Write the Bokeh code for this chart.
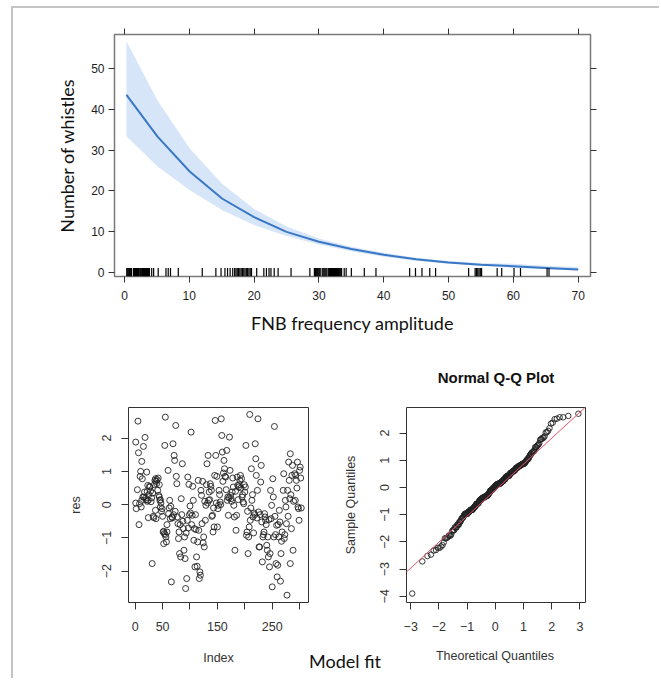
from statistics import NormalDist
from bokeh.plotting import figure
from bokeh.models import (Range1d, LinearAxis, FixedTicker, Slope, Div, Spacer)
from bokeh.layouts import column, row
from bokeh.embed import file_html
from bokeh.resources import INLINE

# ---------------- data ----------------
# effect plot: FNB frequency amplitude vs fitted number of whistles
fnb_x = [0.3, 5.1, 10.1, 15.1, 20, 25, 30, 35, 40, 45, 50, 55, 60, 65, 70]
fit = [43.5, 33.3, 24.7, 18.1, 13.6, 10.0, 7.6, 5.8, 4.4, 3.3, 2.5, 2.0, 1.6, 1.2, 0.8]
upper = [56.6, 42.1, 30.3, 21.7, 15.6, 11.3, 8.4, 6.4, 4.9, 3.7, 2.9, 2.4, 2.2, 1.7, 1.4]
lower = [33.4, 26.0, 20.2, 15.3, 11.7, 9.0, 6.9, 5.3, 3.9, 2.9, 2.2, 1.7, 1.2, 0.9, 0.55]
rug_x = [0.35, 0.5, 0.65, 0.8, 0.95, 1.1, 1.4, 1.55, 1.7, 1.85, 2.0, 2.15, 2.35, 2.5, 2.65,
         2.8, 2.95, 3.1, 3.25, 3.4, 3.55, 3.7, 3.85, 4.2, 4.5, 5.2, 6.4, 6.75, 7.1, 8.3,
         12.0, 14.1, 14.9, 15.5, 15.9, 16.3, 16.7, 17.0, 17.2, 17.4, 17.6, 17.8, 18.0, 18.2,
         18.4, 18.6, 18.8, 19.0, 19.2, 19.4, 19.6, 20.4, 21.5, 21.9, 22.3, 22.6, 23.1, 23.7,
         25.7, 28.6, 29.3, 29.45, 29.6, 29.75, 29.9, 30.05, 30.2, 30.5, 30.65, 30.8, 30.95,
         31.1, 31.25, 31.5, 31.65, 31.8, 31.95, 32.1, 32.25, 32.4, 32.55, 32.7, 32.85, 33.0,
         33.15, 33.3, 33.5, 33.9, 34.2, 35.0, 37.0, 38.8, 44.0, 44.9, 45.9, 47.1, 48.0, 53.1,
         54.1, 54.3, 54.5, 54.7, 54.9, 55.1, 57.5, 58.2, 60.1, 61.1, 65.2, 65.5]
top_xticks = [0, 10, 20, 30, 40, 50, 60, 70]
top_yticks = [0, 10, 20, 30, 40, 50]

# residuals vs index
res_idx = [5, 1, 6, 15, 18, 12, 10, 9, 13, 4, 1, 2, 7, 11, 16, 12, 17, 21, 23, 22, 24, 24, 8, 14,
           27, 28, 29, 31, 33, 34, 36, 37, 39, 40, 41, 43, 38, 37, 44, 45, 46,
           49, 51, 54, 55, 53, 56, 57, 58, 52, 60, 61, 63, 64, 67, 66, 69, 71, 72, 74, 75, 76,
           77, 78, 79, 80, 81, 83, 84, 85,
           86, 88, 89, 90, 91, 92, 94, 95, 96, 98, 100, 102, 104, 106, 107, 108, 109, 112, 113,
           114, 115, 116, 117, 118, 119, 120,
           121, 122, 124, 125, 126, 128, 129, 131, 133, 134, 135, 137, 139, 140, 141, 142, 144,
           145, 146, 147, 150, 151, 152, 153, 155,
           157, 158, 159, 162, 163, 164, 165, 167, 168, 169, 170, 172, 173, 174, 175, 177, 179,
           180, 181, 182, 184, 185, 186, 187, 189, 191, 192,
           194, 195, 197, 198, 200, 201, 202, 203, 204, 206, 207, 208, 209, 210, 212, 213, 215,
           217, 219, 220, 221, 223, 224, 225, 226, 227,
           229, 230, 231, 232, 233, 235, 236, 237, 238, 240, 241, 242, 243, 245, 246, 247, 248,
           249, 251, 252, 253, 250, 254, 257, 258, 259, 260, 262, 263, 264,
           265, 266, 268, 270, 271, 272, 274, 275, 276, 277, 278, 280, 281, 282, 283, 285, 286,
           287, 288, 283, 291, 292, 293, 294, 296, 297, 298, 299, 300, 301,
           19, 20, 22, 25, 26, 30, 32, 35, 38, 42, 44, 46,
           47, 48, 50, 52, 55, 58,
           62, 65, 68, 70, 73, 82, 87, 93, 97, 99,
           101, 103, 105, 110, 111, 123, 127, 130, 132, 136, 138, 143, 148, 149, 154, 156,
           160, 161, 166, 171, 176, 178, 183, 188, 190, 193, 196, 199,
           205, 211, 214, 216, 218, 222, 228, 234, 239, 244, 255, 256, 261, 267, 273, 279, 284,
           289, 295, 302, 303]
res = [2.51, 1.88, 1.56, 1.75, 2.02, 1.30, 1.00, 0.85, 0.78, 0.45, 0.05, -0.12, -0.60, -0.07,
       0.23, 0.13, 0.38, 0.98, 0.58, 0.10, 0.13, -0.39, 0.03, 0.23,
       0.53, 0.41, 0.09, -1.77, -0.35, -0.39, 0.73, 0.78, 0.63, 0.75, 0.43, 0.28, -0.42, -0.17,
       0.23, 0.13, -0.07,
       -0.12, -0.82, 1.78, 2.63, -0.87, -0.97, -1.12, -0.82, -1.17, 1.03, -0.27, 0.13, -0.42,
       -0.37, -2.32, 1.83, 1.48, 1.33, 2.38, 0.85, 0.63,
       -0.37, -0.57, -1.02, -0.82, -1.47, -1.57, 0.18, -0.30,
       1.23, -0.72, -1.37, -0.97, -1.62, -2.52, -2.22, -0.47, 0.83, 0.61, -0.04, 2.18, -0.32,
       0.13, -1.07, -0.72, -1.87, -1.57, -1.85, -1.12, 0.73, -0.77, -2.22, -2.02, -2.12, 0.43,
       0.28, -0.57, -1.15, -0.97, -1.27, -0.47, -0.02, 1.23, 1.48, 0.13, 0.38, 0.63, 0.43,
       -0.35, -0.32, -0.82, -0.67, 0.88, 2.53, 1.48, -0.67, -0.12, -0.02, 0.43, 0.08,
       2.58, 2.08, 1.58, 1.33, 1.08, 0.85, 0.83, 1.63, 0.13, 0.23, -0.32, 2.03, 1.03, 0.28,
       0.18, 0.38, 0.53, -0.02, -0.37, -1.37, -0.77, -0.32, 0.83, 0.58, 0.53, 0.73, 0.88,
       0.78, 0.23, 0.08, 0.03, 0.38, 0.53, 1.78, -0.92, -0.82, -1.47, -0.97, -0.67, 2.71,
       -0.47, 1.08, 0.13, -0.37, -0.25, 1.83, 1.38, 0.88, 0.43, 2.58, -0.22, -1.27, -1.27,
       0.68, 1.18, -0.52, -1.72, -0.97, -0.82, -0.27, -0.37, -0.47, -1.22, -1.37, -0.97,
       -1.57, -1.87, -1.47, 0.43, -0.42, -0.02, 0.78, 0.23, -0.97, -2.47, 2.35, -1.77, -0.62,
       -2.17, -1.82, -0.97, -0.17, -0.52,
       -2.30, -1.47, -0.82, 0.43, 0.93, -1.02, 0.13, -0.07, -0.57, -2.72, 0.43, 1.28, 0.73,
       0.18, 1.53, -0.72, 0.88, 1.18, -1.37, -1.77, 0.93, 0.13, 0.88, 0.73, 1.28, -0.07,
       -0.12, -0.47, 1.03, 1.13,
       0.2, 0.15, 0.4, 0.3, 0.55, 0.2, 0.35, 0.6, 0.7, 0.8, 0.6, 0.15,
       0.05, -0.2, -0.35, -0.8, -0.9, -0.6,
       -0.1, -0.05, -0.4, -0.3, -0.2, -0.6, -0.5, -0.85, -0.7, -0.3,
       -0.25, -0.6, 0.55, -0.3, -0.75, 0.7, 0.1, 0.6, 0.05, 0.15, 0.55, -0.1, 0.05, 0.85, 0.3,
       0.0,
       0.7, 0.95, 0.45, 0.2, 0.1, 0.8, 0.4, 0.15, 0.6, 0.5, 0.3, 0.6,
       -0.2, -0.1, 0.3, -0.85, -0.3, -0.4, -0.3, -0.9, -0.6, -0.45, -0.35, -0.9, -0.6, -1.1,
       -0.9, -0.35, 0.3, 0.1, 0.5, 0.8, -0.1]
idx_ticks = [0, 50, 100, 150, 200, 250, 300]
idx_hidden = {100: "", 200: "", 300: ""}
res_ticks = [-2, -1, 0, 1, 2]

# normal Q-Q: sample quantiles are the sorted residuals plus the one low outlier
qq_low_outlier = [-3.9]
qq_sample = sorted(res + qq_low_outlier)
n_qq = len(qq_sample)
qq_theor = [NormalDist().inv_cdf((i + 0.5) / n_qq) for i in range(n_qq)]
qq_line_intercept = -0.1
qq_line_slope = 0.955
qq_xticks = [-3, -2, -1, 0, 1, 2, 3]
qq_yticks = [-4, -3, -2, -1, 0, 1, 2]

# ---------------- styling helpers ----------------
FRAME_GREY = "#c4c4c4"
LAT = "Lato"
ARIAL = "Liberation Sans"


def style_axis(ax, ticks, font_size, color, tick_len, standoff, label_standoff,
               label_font, label_size):
    ax.ticker = FixedTicker(ticks=ticks)
    ax.axis_line_color = None
    ax.major_tick_in = 0
    ax.major_tick_out = tick_len
    ax.minor_tick_line_color = None
    ax.major_tick_line_color = "#333333"
    ax.major_label_text_font = ARIAL
    ax.major_label_text_font_size = font_size
    ax.major_label_text_color = color
    ax.major_label_standoff = standoff
    ax.axis_label_text_font = label_font
    ax.axis_label_text_font_size = label_size
    ax.axis_label_text_font_style = "normal"
    ax.axis_label_standoff = label_standoff


# ---------------- top: effect plot ----------------
p = figure(width=646, height=335, output_backend="svg", toolbar_location=None,
           x_range=Range1d(-1.54, 71.9), y_range=Range1d(-0.9, 58.24),
           min_border_left=101, min_border_right=69, min_border_top=26, min_border_bottom=67,
           x_axis_label="FNB frequency amplitude", y_axis_label="Number of whistles")
p.grid.visible = False
p.outline_line_color = "#7a7a7a"
p.outline_line_width = 1.5
style_axis(p.xaxis[0], top_xticks, "12px", "#1e1e1e", 6, 8, 9, LAT, "18px")
style_axis(p.yaxis[0], top_yticks, "12px", "#1e1e1e", 6, 4, 10, LAT, "18px")
p.xaxis[0].axis_label_text_color = "#111111"
p.yaxis[0].axis_label_text_color = "#111111"
for side in ("above", "right"):
    ax = LinearAxis()
    style_axis(ax, top_xticks if side == "above" else top_yticks, "11px", None,
               6, 0, 0, ARIAL, "11px")
    p.add_layout(ax, side)

p.varea(x=fnb_x, y1=lower, y2=upper, fill_color="#d6e6f8")
p.line(x=fnb_x, y=fit, line_color="#3a77c5", line_width=2)
rug_top = 1.2
p.segment(x0=rug_x, y0=[p.y_range.start] * len(rug_x), x1=rug_x, y1=[rug_top] * len(rug_x),
          line_color="black", line_width=1.2)

# ---------------- bottom left: residuals vs index ----------------
q = figure(width=296, height=335, output_backend="svg", toolbar_location=None,
           x_range=Range1d(-12.2, 316.2), y_range=Range1d(-2.94, 2.92),
           min_border_left=115, min_border_right=1, min_border_top=64, min_border_bottom=76,
           x_axis_label="Index", y_axis_label="res")
q.grid.visible = False
q.outline_line_color = "#333333"
q.outline_line_width = 1
style_axis(q.xaxis[0], idx_ticks, "12.5px", "#333333", 7, 12, 17, ARIAL, "12.5px")
q.xaxis[0].major_label_overrides = idx_hidden
style_axis(q.yaxis[0], res_ticks, "12.5px", "#333333", 7, 10, 17, ARIAL, "12.5px")
q.yaxis[0].major_label_orientation = "vertical"
q.xaxis[0].axis_label_text_color = "#333333"
q.yaxis[0].axis_label_text_color = "#333333"
q.scatter(x=res_idx, y=res, marker="circle", size=6, fill_color=None,
          line_color="#222222", line_width=0.9)

# ---------------- bottom right: normal Q-Q plot ----------------
r = figure(width=350, height=305, output_backend="svg", toolbar_location=None,
           x_range=Range1d(-3.15, 3.20), y_range=Range1d(-4.23, 2.94),
           min_border_left=97, min_border_right=74, min_border_top=64, min_border_bottom=46,
           y_axis_label="Sample Quantiles", title="Normal Q-Q Plot")
r.grid.visible = False
r.outline_line_color = "#333333"
r.outline_line_width = 1
r.title.align = "center"
r.title.vertical_align = "middle"
r.title.standoff = 41
r.title.text_font = ARIAL
r.title.text_font_size = "15px"
r.title.text_font_style = "bold"
r.title.text_color = "#111111"
style_axis(r.xaxis[0], qq_xticks, "12.5px", "#333333", 7, 12, 17, ARIAL, "12.5px")
style_axis(r.yaxis[0], qq_yticks, "12.5px", "#333333", 7, 10, 20, ARIAL, "12.5px")
r.yaxis[0].major_label_orientation = "vertical"
r.yaxis[0].axis_label_text_color = "#333333"
r.add_layout(Slope(gradient=qq_line_slope, y_intercept=qq_line_intercept,
                   line_color="#DF536B", line_width=1))
r.scatter(x=qq_theor, y=qq_sample, marker="circle", size=5.5, fill_color=None,
          line_color="#222222", line_width=0.9)

# caption strip under the Q-Q panel: shared caption + the Q-Q x-axis title
caption = Div(text="Model fit", width=72, height=30, margin=0,
              styles={"font-family": "Lato", "font-size": "18px", "color": "#111111",
                      "text-align": "center", "line-height": "26px",
                      "white-space": "nowrap"})
qq_xlabel = Div(text="Theoretical Quantiles", width=228, height=30, margin=0,
                styles={"font-family": "Liberation Sans", "font-size": "12.5px",
                        "color": "#333333", "text-align": "center",
                        "line-height": "17px", "white-space": "nowrap"})

# ---------------- outer grey frame (left and top edges) ----------------
left_edge = Div(width=2, height=672, margin=0, styles={"background-color": FRAME_GREY})
top_edge = Div(width=646, height=2, margin=0, styles={"background-color": FRAME_GREY})

bottom = row(q, column(r, row(caption, qq_xlabel, spacing=0), spacing=0), spacing=0)
layout = column(
    Spacer(height=6),
    row(Spacer(width=11), left_edge,
        column(top_edge, p, bottom, spacing=0), spacing=0),
    spacing=0)
open("out.html", "w").write(file_html(layout, INLINE))
